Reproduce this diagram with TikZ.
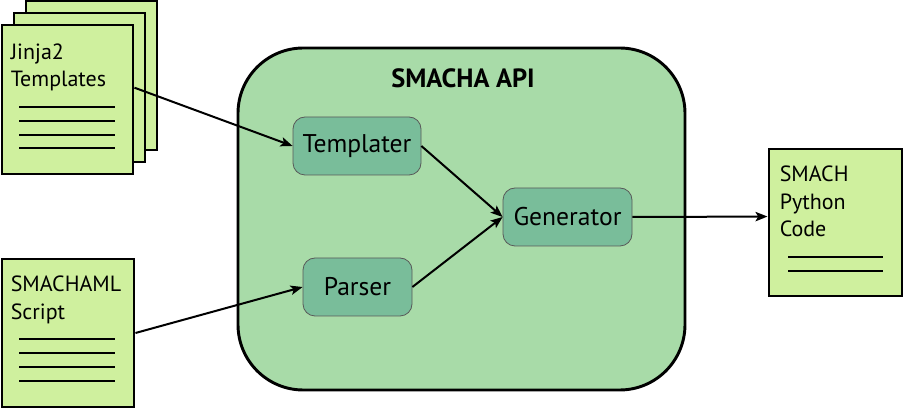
\documentclass[tikz,border=0pt]{standalone}
\usepackage{fontspec}
\setmainfont{PT Sans}
\usepackage{xcolor}
\usepackage{tikz}
\usetikzlibrary{arrows.meta,shapes}
\definecolor{paper}{HTML}{CFF09E}
\definecolor{apibg}{HTML}{A8DBA8}
\definecolor{modbg}{HTML}{79BD9A}

\begin{document}
\begin{tikzpicture}[x=0.75pt,y=-0.75pt,>={Stealth[length=9pt,width=7pt,inset=2pt]},
doc/.style={draw,line width=2.2pt,fill=paper,inner sep=0pt},
doctext/.style={anchor=north west,inner sep=0pt,align=left,font=\fontsize{16.5}{20.5}\selectfont},
module/.style={draw=black!65,line width=0.6pt,fill=modbg,rounded corners=9pt,minimum height=43.5pt,inner sep=0pt,font=\fontsize{19.2}{22}\selectfont},
flow/.style={->,line width=1.5pt},
rule/.style={line width=1.5pt}]
\useasboundingbox (0,0) rectangle (904,409);
\node[doc,minimum width=98.25pt,minimum height=111.75pt] (back) at (91.5,75.5) {};
\node[doc,minimum width=98.25pt,minimum height=111.75pt] (middle) at (79.5,87.5) {};
\node[doc,minimum width=98.25pt,minimum height=111.75pt] (jinja) at (67.5,99.5) {};
\node[doctext] (jinjatext) at ([shift={(10,20)}]jinja.north west) {Jinja2\\Templates};
\foreach \dy in {7.5,21.5,35.5,48.5}
\draw[rule] ([shift={(-48.5,\dy)}]jinja.center) -- ++(96,0);
\node[doc,minimum width=99pt,minimum height=111pt] (script) at (68,333) {};
\node[doctext] (scripttext) at ([shift={(10,18.5)}]script.north west) {SMACHAML\\Script};
\foreach \dy in {6,20,34,48}
\draw[rule] ([shift={(-49,\dy)}]script.center) -- ++(96,0);
\node[doc,minimum width=99.75pt,minimum height=110.25pt] (python) at (835.5,222.5) {};
\node[doctext] (pythontext) at ([shift={(12,18.5)}]python.north west) {SMACH\\Python\\Code};
\foreach \dy in {34.5,48.5}
\draw[rule] ([shift={(-47.5,\dy)}]python.center) -- ++(95,0);
\node[draw,line width=2.2pt,fill=apibg,rounded corners=49pt,minimum width=335.25pt,minimum height=256.5pt] (api) at (461.5,219) {};
\node[font=\bfseries\fontsize{19.8}{22}\selectfont] (apititle) at (463,78) {SMACHA API};
\node[module,minimum width=96pt] (templater) at (357,146) {Templater};
\node[module,minimum width=81.75pt] (parser) at (357.5,287) {Parser};
\node[module,minimum width=96.75pt] (generator) at (567.5,217) {Generator};
\draw[flow] (jinja.10) -- (templater.west);
\draw[flow] (script.east) -- (parser.west);
\draw[flow] (templater.east) -- (generator.west);
\draw[flow] (parser.east) -- (generator.west);
\draw[flow] (generator.east) -- (python.175);
\end{tikzpicture}
\end{document}
